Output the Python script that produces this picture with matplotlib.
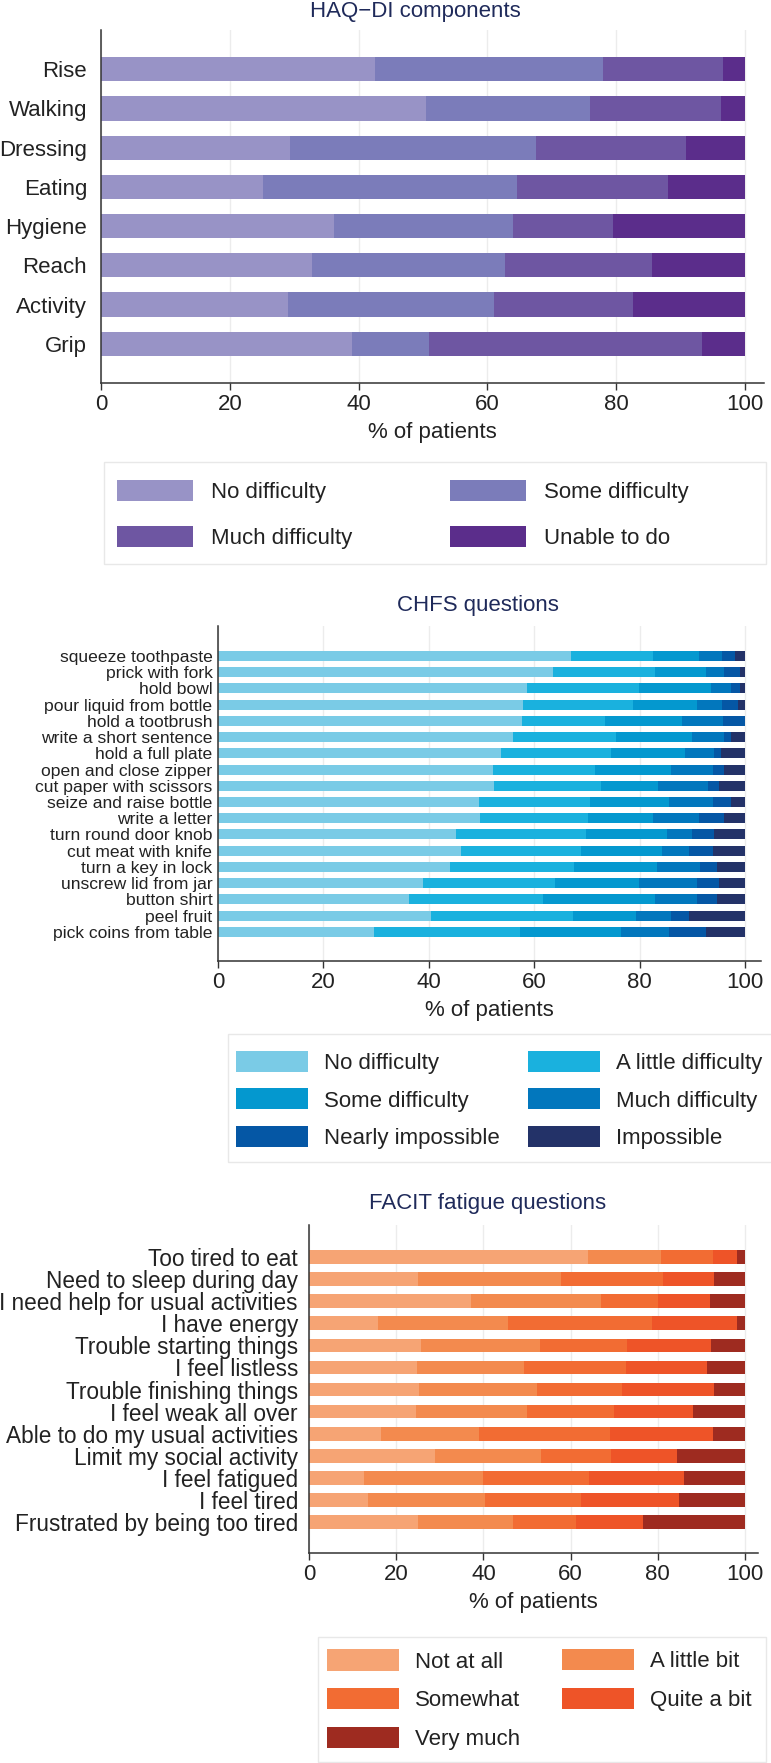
import matplotlib
matplotlib.use("Agg")
import numpy as np
import matplotlib.pyplot as plt
from matplotlib.patches import Rectangle

plt.rcParams["font.family"] = ["Liberation Sans", "DejaVu Sans"]

# ---- HAQ-DI components (top to bottom) ----
haq_items = ["Rise", "Walking", "Dressing", "Eating", "Hygiene", "Reach", "Activity", "Grip"]
haq_levels = ["No difficulty", "Some difficulty", "Much difficulty", "Unable to do"]
haq_no = [42.5, 50.4, 29.3, 25.2, 36.2, 32.8, 29.0, 39.0]
haq_some = [35.5, 25.5, 38.2, 39.4, 27.7, 29.9, 32.1, 12.0]
haq_much = [18.6, 20.4, 23.4, 23.5, 15.6, 22.8, 21.5, 42.3]
haq_unable = [3.4, 3.7, 9.1, 11.9, 20.5, 14.5, 17.4, 6.7]
haq_colors = ["#9893c6", "#7b7cba", "#6e56a2", "#5b2d8b"]

# ---- CHFS questions (top to bottom) ----
chfs_items = ["squeeze toothpaste", "prick with fork", "hold bowl", "pour liquid from bottle",
              "hold a tootbrush", "write a short sentence", "hold a full plate",
              "open and close zipper", "cut paper with scissors", "seize and raise bottle",
              "write a letter", "turn round door knob", "cut meat with knife",
              "turn a key in lock", "unscrew lid from jar", "button shirt", "peel fruit",
              "pick coins from table"]
chfs_levels = ["No difficulty", "A little difficulty", "Some difficulty", "Much difficulty",
               "Nearly impossible", "Impossible"]
chfs_no = [66.9, 63.5, 58.6, 57.8, 57.7, 55.9, 53.7, 52.2, 52.4, 49.5, 49.8, 45.2, 46.1, 44.1, 38.9, 36.2, 40.4, 29.6]
chfs_little = [15.6, 19.4, 21.3, 20.9, 15.7, 19.6, 20.9, 19.3, 20.2, 21.0, 20.5, 24.7, 22.8, 23.5, 25.1, 25.4, 26.9, 27.8]
chfs_some = [8.7, 9.7, 13.6, 12.2, 14.7, 14.4, 14.0, 14.5, 10.8, 15.0, 12.2, 15.3, 15.3, 15.7, 15.8, 21.3, 12.0, 19.1]
chfs_much = [4.4, 3.4, 3.8, 4.7, 7.8, 6.1, 5.6, 7.9, 9.6, 8.4, 8.7, 4.7, 5.2, 8.2, 11.0, 8.0, 6.6, 9.1]
chfs_nearly = [2.5, 3.0, 1.7, 3.1, 4.1, 1.3, 1.3, 2.1, 2.1, 3.4, 4.8, 4.3, 4.5, 3.2, 4.3, 3.8, 3.5, 7.0]
chfs_impossible = [1.9, 1.0, 1.0, 1.3, 0.0, 2.7, 4.5, 4.0, 4.9, 2.7, 4.0, 5.8, 6.1, 5.3, 4.9, 5.3, 10.6, 7.4]
chfs_colors = ["#7acbe6", "#1ab1de", "#0498cf", "#0277bd", "#0557a5", "#233268"]

# ---- FACIT fatigue questions (top to bottom) ----
facit_items = ["Too tired to eat", "Need to sleep during day", "I need help for usual activities",
               "I have energy", "Trouble starting things", "I feel listless",
               "Trouble finishing things", "I feel weak all over", "Able to do my usual activities",
               "Limit my social activity", "I feel fatigued", "I feel tired",
               "Frustrated by being too tired"]
facit_levels = ["Not at all", "A little bit", "Somewhat", "Quite a bit", "Very much"]
facit_not = [63.9, 24.9, 37.2, 15.9, 25.6, 24.8, 25.3, 24.5, 16.4, 29.0, 12.6, 13.5, 25.1]
facit_little = [16.9, 32.8, 29.7, 29.8, 27.4, 24.4, 27.0, 25.6, 22.5, 24.2, 27.4, 26.9, 21.7]
facit_somewhat = [11.9, 23.5, 13.1, 33.0, 20.0, 23.4, 19.5, 19.8, 30.1, 16.0, 24.2, 21.9, 14.5]
facit_quite = [5.4, 11.7, 12.0, 19.4, 19.3, 18.6, 21.1, 18.2, 23.6, 15.2, 21.8, 22.5, 15.2]
facit_very = [1.9, 7.1, 8.0, 1.9, 7.7, 8.8, 7.1, 11.9, 7.4, 15.6, 14.0, 15.2, 23.5]
facit_colors = ["#f6a474", "#f38a4e", "#f26c33", "#ee5428", "#9e2b20"]

W, H = 771, 1763
TITLE_COLOR = "#1f2a5a"
TEXT_COLOR = "#222222"
XMAX = 103.0
FS = 16


def px_axes(fig, x0, top, bottom, x100=745):
    right = x0 + (x100 - x0) * XMAX / 100.0
    return fig.add_axes([x0 / W, 1 - bottom / H, (right - x0) / W, (bottom - top) / H])


def stacked(ax, items, series, colors, levels, ylim, ylab_size, ylab_pad):
    n = len(items)
    y = np.arange(n)[::-1]
    left = np.zeros(n)
    handles = []
    for vals, col, lab in zip(series, colors, levels):
        vals = np.asarray(vals)
        b = ax.barh(y, vals, left=left, height=0.62, color=col, label=lab, zorder=2,
                    edgecolor="none")
        handles.append(b)
        left += vals
    ax.set_xlim(0, XMAX)
    ax.set_ylim(*ylim)
    ax.set_yticks(y)
    ax.set_yticklabels(items, fontsize=ylab_size, color=TEXT_COLOR)
    ax.tick_params(axis="y", length=0, pad=ylab_pad)
    ax.set_xticks([0, 20, 40, 60, 80, 100])
    ax.tick_params(axis="x", length=5, width=1, labelsize=FS, colors="#333333",
                   labelcolor=TEXT_COLOR, pad=3)
    ax.grid(axis="x", color="#ececec", linewidth=1, zorder=0)
    ax.set_axisbelow(True)
    for s in ["top", "right"]:
        ax.spines[s].set_visible(False)
    for s in ["left", "bottom"]:
        ax.spines[s].set_color("#333333")
        ax.spines[s].set_linewidth(1.1)
    ax.set_xlabel("% of patients", fontsize=FS, color=TEXT_COLOR, labelpad=5)
    return handles


def legend_block(fig, handles, labels, box, col_x, rows_y, hlen_px, pad_px):
    # frame
    x0, x1, y0, y1 = box
    fig.add_artist(Rectangle((x0 / W, 1 - y1 / H), (x1 - x0) / W, (y1 - y0) / H,
                             transform=fig.transFigure, fill=False,
                             edgecolor="#e8e8e8", linewidth=1.0))
    fs_px = FS * 100 / 72.0
    pitch = rows_y[1] - rows_y[0]
    hh = 1.08
    spacing = max(pitch / fs_px - hh - 0.02, 0.05)
    # row-major order: column 0 gets items 0, 2, 4...; column 1 gets 1, 3, 5...
    for c, cx in enumerate(col_x):
        hs = handles[c::2]
        ls = labels[c::2]
        nr = len(hs)
        yc = np.mean(rows_y[:nr])
        leg = fig.legend(hs, ls, loc="center left", bbox_to_anchor=(cx / W, 1 - yc / H),
                         bbox_transform=fig.transFigure, borderaxespad=0, borderpad=0,
                         frameon=False, fontsize=FS, ncol=1,
                         handlelength=hlen_px / fs_px, handleheight=hh,
                         handletextpad=pad_px / fs_px, labelspacing=spacing)
        for t in leg.get_texts():
            t.set_color(TEXT_COLOR)


fig = plt.figure(figsize=(W / 100, H / 100), dpi=100)

# Top chart
ax1 = px_axes(fig, 101, 30, 383)
h1 = stacked(ax1, haq_items, [haq_no, haq_some, haq_much, haq_unable], haq_colors,
             haq_levels, (-1.0, 8.0), 16, 10)
fig.text(415 / W, 1 - 11 / H, "HAQ\u2212DI components", fontsize=FS, color=TITLE_COLOR,
         ha="center", va="center")
legend_block(fig, h1, haq_levels, (104, 766, 462, 564), [117, 450], [491, 538], 76, 18)

# Middle chart
ax2 = px_axes(fig, 218, 626, 961)
h2 = stacked(ax2, chfs_items,
             [chfs_no, chfs_little, chfs_some, chfs_much, chfs_nearly, chfs_impossible],
             chfs_colors, chfs_levels, (-1.8, 18.85), 12.6, 4)
fig.text(478 / W, 1 - 605 / H, "CHFS questions", fontsize=FS, color=TITLE_COLOR,
         ha="center", va="center")
legend_block(fig, h2, chfs_levels, (228, 775, 1034, 1162), [236, 528], [1061, 1100, 1139], 72, 16)

# Bottom chart
ax3 = px_axes(fig, 309, 1225, 1553)
h3 = stacked(ax3, facit_items,
             [facit_not, facit_little, facit_somewhat, facit_quite, facit_very],
             facit_colors, facit_levels, (-1.4, 13.45), 16.3, 8)
fig.text(488 / W, 1 - 1203 / H, "FACIT fatigue questions", fontsize=FS, color=TITLE_COLOR,
         ha="center", va="center")
legend_block(fig, h3, facit_levels, (318, 766, 1637, 1762), [327, 562], [1660, 1700, 1739], 72, 16)

fig.savefig("out.png", dpi=100)
